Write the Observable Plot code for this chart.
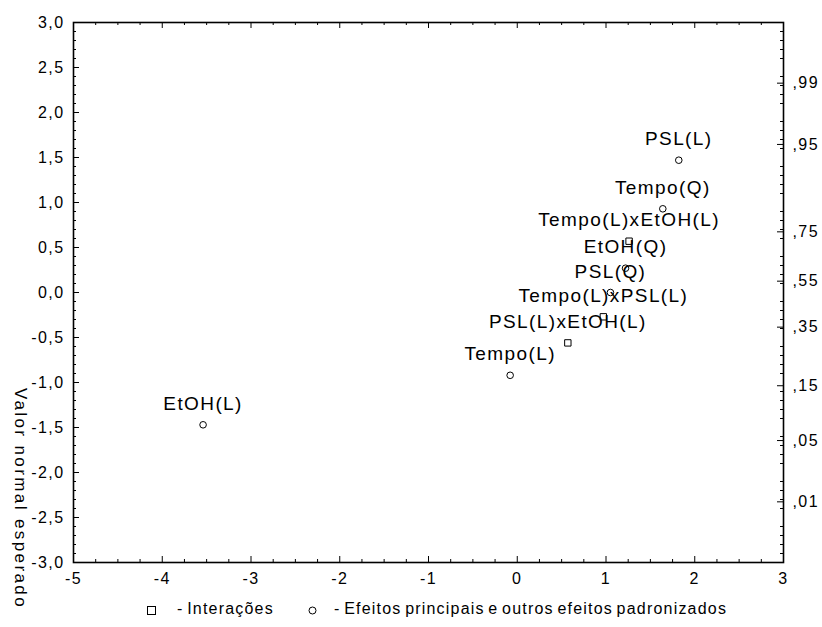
<!DOCTYPE html>
<html>
<head>
<meta charset="utf-8">
<script src="https://cdn.jsdelivr.net/npm/d3@7"></script>
<script src="https://cdn.jsdelivr.net/npm/@observablehq/plot@0.6"></script>
<style>
  html, body { margin: 0; padding: 0; background: #fff; }
  body { position: relative; width: 822px; height: 627px; overflow: hidden; font-family: "Liberation Sans", Arial, sans-serif; }
  #chart svg { display: block; }
  #chart svg g[aria-label="text"] text { letter-spacing: 1.4px; }
  #chart svg g[aria-label$="tick label"] text { letter-spacing: 1.4px; }
  #legend { position: absolute; left: 0; top: 600px; width: 822px; height: 27px; font-size: 16px; color: #000; letter-spacing: 1.2px; word-spacing: -2px; white-space: nowrap; }
  #legend svg { position: absolute; top: 6px; }
  #legend .lbl { position: absolute; top: 0; }
</style>
</head>
<body>
<div id="chart"></div>
<div id="legend"></div>
<script>
// ---- data ----
const effectLabels = ["EtOH(L)", "Tempo(L)", "PSL(L)xEtOH(L)", "Tempo(L)xPSL(L)", "PSL(Q)", "EtOH(Q)", "Tempo(L)xEtOH(L)", "Tempo(Q)", "PSL(L)"];
const effectValues = [-3.54, -0.08, 0.57, 0.97, 1.05, 1.22, 1.26, 1.64, 1.82];
const expectedNormal = [-1.47, -0.92, -0.56, -0.27, 0.0, 0.27, 0.57, 0.93, 1.47];
const effectKinds = ["main", "main", "inter", "inter", "main", "main", "inter", "main", "main"];
const xTicks = [-5, -4, -3, -2, -1, 0, 1, 2, 3];
const yTicks = [-3, -2.5, -2, -1.5, -1, -0.5, 0, 0.5, 1, 1.5, 2, 2.5, 3];
const probLabels = [",01", ",05", ",15", ",35", ",55", ",75", ",95", ",99"];
const probZ = [-2.326, -1.645, -1.036, -0.385, 0.126, 0.674, 1.645, 2.326];
const yTitle = "Valor normal esperado";
const legendInter = "- Interações";
const legendMain = "- Efeitos principais e outros efeitos padronizados";

const rows = effectLabels.map((label, i) => ({label, x: effectValues[i], y: expectedNormal[i], kind: effectKinds[i]}));

// ---- layout ----
const W = 822, H = 627;
const mL = 73, mR = 39, mT = 22, mB = 65;
const fW = W - mL - mR, fH = H - mT - mB;
const majLen = 6, minLen = 3;

const xMinor = d3.range(-5, 3.0001, 0.25).filter(v => !xTicks.includes(v));
const yMinor = d3.range(-30, 31).map(v => v / 10).filter(v => !yTicks.includes(v));

const fmtY = d => d.toFixed(1).replace(".", ",");

const chart = Plot.plot({
  width: W,
  height: H,
  marginLeft: mL,
  marginRight: mR,
  marginTop: mT,
  marginBottom: mB,
  style: {fontFamily: "'Liberation Sans', Arial, sans-serif", color: "#000", background: "#fff"},
  x: {domain: [-5, 3]},
  y: {domain: [-3, 3]},
  marks: [
    Plot.tickX(xTicks, {x: d => d, insetTop: fH - majLen, stroke: "#000"}),
    Plot.tickX(xMinor, {x: d => d, insetTop: fH - minLen, stroke: "#000"}),
    Plot.tickX(xTicks, {x: d => d, insetBottom: fH - majLen, stroke: "#000"}),
    Plot.tickX(xMinor, {x: d => d, insetBottom: fH - minLen, stroke: "#000"}),
    Plot.tickY(yTicks, {y: d => d, insetRight: fW - majLen, stroke: "#000"}),
    Plot.tickY(yMinor, {y: d => d, insetRight: fW - minLen, stroke: "#000"}),
    Plot.tickY(probZ, {y: d => d, insetLeft: fW - majLen, stroke: "#000"}),
    Plot.tickY(yMinor, {y: d => d, insetLeft: fW - minLen, stroke: "#000"}),
    Plot.frame({stroke: "#000", strokeWidth: 1.6}),
    Plot.axisX(xTicks, {tickSize: 0, tickPadding: 10, fontSize: 16, tickFormat: d => String(d), label: null}),
    Plot.axisY(yTicks, {anchor: "left", tickSize: 0, tickPadding: 9, fontSize: 16, tickFormat: fmtY, label: null}),
    Plot.axisY(probZ, {anchor: "right", tickSize: 0, tickPadding: 9, fontSize: 16, tickFormat: d => probLabels[probZ.indexOf(d)], label: null}),
    Plot.text([yTitle], {text: d => d, frameAnchor: "bottom-left", dx: -53, dy: -64, rotate: 90, fontSize: 17, textAnchor: "middle", lineAnchor: "middle"}),
    Plot.dot(rows.filter(d => d.kind === "main"), {x: "x", y: "y", symbol: "circle", r: 3.3, stroke: "#000", fill: "#fff", strokeWidth: 1}),
    Plot.dot(rows.filter(d => d.kind === "inter"), {x: "x", y: "y", symbol: "square", r: 3.6, stroke: "#000", fill: "#fff", strokeWidth: 1}),
    Plot.text(rows, {x: "x", y: "y", text: "label", dy: -21, fontSize: 19, fill: "#000"})
  ]
});
document.getElementById("chart").appendChild(chart);
d3.select(chart).selectAll("text").filter(function() { return this.textContent === yTitle; }).style("letter-spacing", "2.4px");

// ---- legend ----
const legend = document.getElementById("legend");
legend.innerHTML =
  `<svg style="left:147px" width="9" height="9"><rect x="0.5" y="0.5" width="8" height="8" fill="#fff" stroke="#000" stroke-width="1"/></svg>` +
  `<span class="lbl" style="left:177px">${legendInter}</span>` +
  `<svg style="left:308px" width="9" height="9"><circle cx="4.5" cy="4.5" r="3.5" fill="#fff" stroke="#000" stroke-width="1"/></svg>` +
  `<span class="lbl" style="left:334px">${legendMain}</span>`;
</script>
</body>
</html>
